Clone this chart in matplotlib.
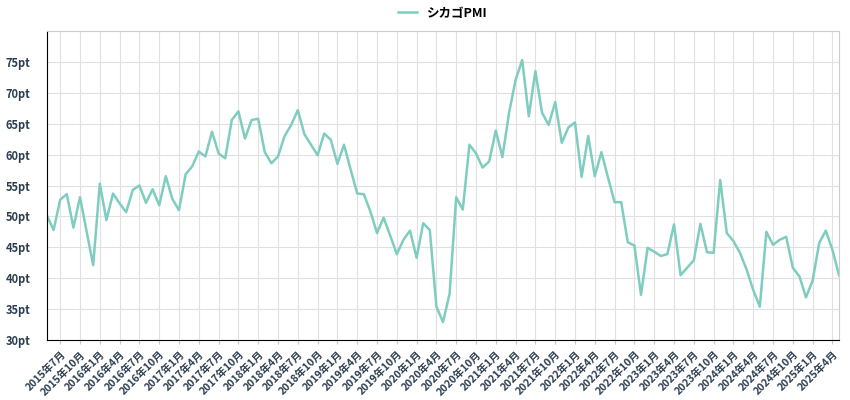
import matplotlib
matplotlib.use("Agg")
import matplotlib.pyplot as plt
import matplotlib.transforms as mtransforms

start_year, start_month = 2015, 5
values = [50.1,47.8,52.7,53.6,48.2,53.1,47.6,42.1,55.3,49.4,53.7,52.1,50.7,54.3,55.0,52.2,54.4,51.8,56.5,52.8,
          51.0,56.8,58.1,60.5,59.7,63.7,60.2,59.4,65.6,67.0,62.6,65.6,65.8,60.4,58.6,59.7,63.0,64.8,67.2,63.3,
          61.6,59.9,63.4,62.4,58.5,61.6,57.6,53.7,53.6,50.8,47.3,49.8,46.9,43.9,46.2,47.7,43.3,48.9,47.8,35.4,
          32.9,37.5,53.1,51.1,61.6,60.2,57.9,58.9,63.9,59.6,66.7,72.1,75.3,66.2,73.5,66.8,64.8,68.5,61.9,64.4,
          65.2,56.4,63.0,56.5,60.4,56.3,52.3,52.3,45.8,45.3,37.3,44.9,44.3,43.6,43.9,48.7,40.5,41.7,42.9,48.8,
          44.2,44.1,55.9,47.3,46.0,44.1,41.4,38.1,35.4,47.5,45.4,46.2,46.7,41.7,40.3,36.9,39.6,45.7,47.7,44.6,40.5]
months = []
for k in range(len(values)):
    m = start_month - 1 + k
    months.append((start_year + m // 12, m % 12 + 1))
series_name = "シカゴPMI"
y_ticks = [30, 35, 40, 45, 50, 55, 60, 65, 70, 75]

plt.rcParams["font.family"] = ["Noto Sans CJK JP"]
fig = plt.figure(figsize=(8.5, 4.0), dpi=100)
ax = fig.add_axes([47/850, 60/400, 792/850, 309/400])
x = list(range(len(values)))
ax.plot(x, values, color="#7ecdc0", lw=1.8, label=series_name)
ax.set_xlim(0, len(values) - 1)
ax.set_ylim(30, 80)
tick_idx = [i for i, (yy, mm) in enumerate(months) if mm in (1, 4, 7, 10)]
ax.set_xticks(tick_idx)
ax.set_xticklabels([f"{months[i][0]}年{months[i][1]}月" for i in tick_idx], rotation=45,
                   ha="right", rotation_mode="anchor", fontsize=7.5, fontweight="bold", color="#2c3e50")
ax.set_yticks(y_ticks)
ax.set_yticklabels([f"{v}pt" for v in y_ticks], fontsize=8, fontweight="bold", color="#2c3e50")
offset = mtransforms.ScaledTranslation(0, 5/100, fig.dpi_scale_trans)
for lab in ax.get_yticklabels():
    lab.set_transform(lab.get_transform() + offset)
ax.grid(True, color="#e0e0e0", lw=0.8)
ax.set_axisbelow(True)
ax.tick_params(axis="both", length=3, color="#c0c8d8")
ax.tick_params(axis="y", length=0, pad=12)
for s in ("top", "right"):
    ax.spines[s].set_color("#cccccc")
for s in ("left", "bottom"):
    ax.spines[s].set_color("black")
ax.legend(loc="lower center", bbox_to_anchor=(0.5, 1.0), frameon=False,
          handlelength=1.5, prop={"weight": "bold", "size": 9})
fig.savefig("out.png", dpi=100)
